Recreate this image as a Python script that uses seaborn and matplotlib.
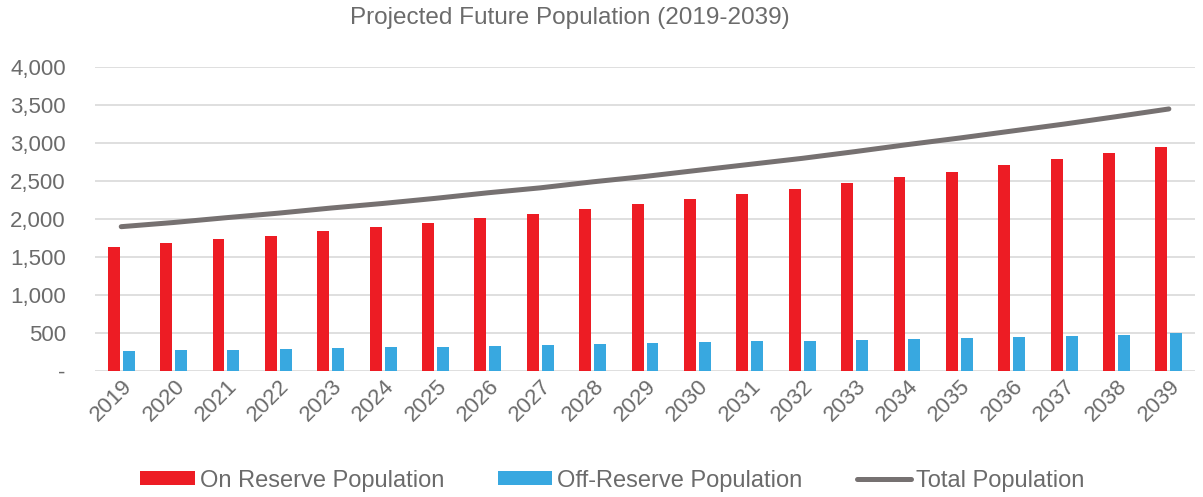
import numpy as np
import pandas as pd
import matplotlib
matplotlib.use("Agg")
import matplotlib.pyplot as plt
import matplotlib.transforms as mtransforms
import seaborn as sns
from matplotlib.ticker import FixedLocator, FuncFormatter

years = [str(y) for y in range(2019, 2040)]
on_reserve = [1630, 1680, 1735, 1782, 1838, 1892, 1950, 2010, 2067, 2133, 2195,
              2261, 2327, 2397, 2472, 2551, 2625, 2704, 2783, 2867, 2951]
off_reserve = [269, 274, 282, 295, 306, 313, 322, 335, 343, 356, 365,
               379, 392, 401, 414, 427, 440, 453, 466, 480, 497]
total = [1899, 1954, 2017, 2077, 2144, 2205, 2272, 2345, 2410, 2489, 2560,
         2640, 2719, 2798, 2886, 2978, 3065, 3157, 3249, 3347, 3448]
series_names = ["On Reserve Population", "Off-Reserve Population", "Total Population"]
y_ticks = [0, 500, 1000, 1500, 2000, 2500, 3000, 3500, 4000]

RED = "#ED1C24"
BLUE = "#38A8E0"
GREY_LINE = "#767171"
TEXT = "#6b6b6b"
GRID = "#D9D9D9"

sns.set_theme(style="white")
plt.rcParams["font.family"] = ["Liberation Sans", "DejaVu Sans"]

bars = pd.DataFrame({
    "year": years * 2,
    "population": on_reserve + off_reserve,
    "series": [series_names[0]] * len(years) + [series_names[1]] * len(years),
})

fig = plt.figure(figsize=(12.03, 4.97), dpi=100)
ax = fig.add_axes([0.079, 0.2535, 0.9144, 0.6117])

sns.barplot(data=bars, x="year", y="population", hue="series",
            hue_order=series_names[:2], palette=[RED, BLUE],
            width=0.57, gap=0.2, linewidth=0, saturation=1, ax=ax)
sns.lineplot(x=np.arange(len(years)), y=total, color=GREY_LINE, linewidth=3.6,
             label=series_names[2], ax=ax, solid_capstyle="round")

ax.set_xlim(-0.5, len(years) - 0.5)
ax.set_ylim(0, 4000)
ax.yaxis.set_major_locator(FixedLocator(y_ticks))
ax.yaxis.set_major_formatter(FuncFormatter(lambda v, p: "-" if v == 0 else f"{v:,.0f}"))
ax.grid(axis="y", color=GRID, linewidth=1.2)
ax.set_axisbelow(True)
for s in ax.spines.values():
    s.set_visible(False)
ax.set_xlabel("")
ax.set_ylabel("")
ax.tick_params(axis="y", length=0, pad=21, labelsize=16, labelcolor=TEXT)
ax.tick_params(axis="x", length=0, pad=9, labelsize=16, labelcolor=TEXT)
ax.set_xticks(np.arange(len(years)))
ax.set_xticklabels(years, rotation=45, ha="right", va="center", rotation_mode="anchor")
shift = mtransforms.ScaledTranslation(8 / 100, 0, fig.dpi_scale_trans)
for lab in ax.get_xticklabels():
    lab.set_transform(lab.get_transform() + shift)

handles, labels = ax.get_legend_handles_labels()
ax.get_legend().remove()
fig.legend(handles, labels, loc="center", bbox_to_anchor=(0.509, 0.033), ncol=3,
           frameon=False, fontsize=17, labelcolor=TEXT, handlelength=2.3,
           handleheight=0.52, handletextpad=0.2, columnspacing=2.3)

fig.text(0.474, 0.963, "Projected Future Population (2019-2039)", ha="center",
         va="center", fontsize=17.5, color=TEXT)

fig.savefig("out.png", dpi=100)
